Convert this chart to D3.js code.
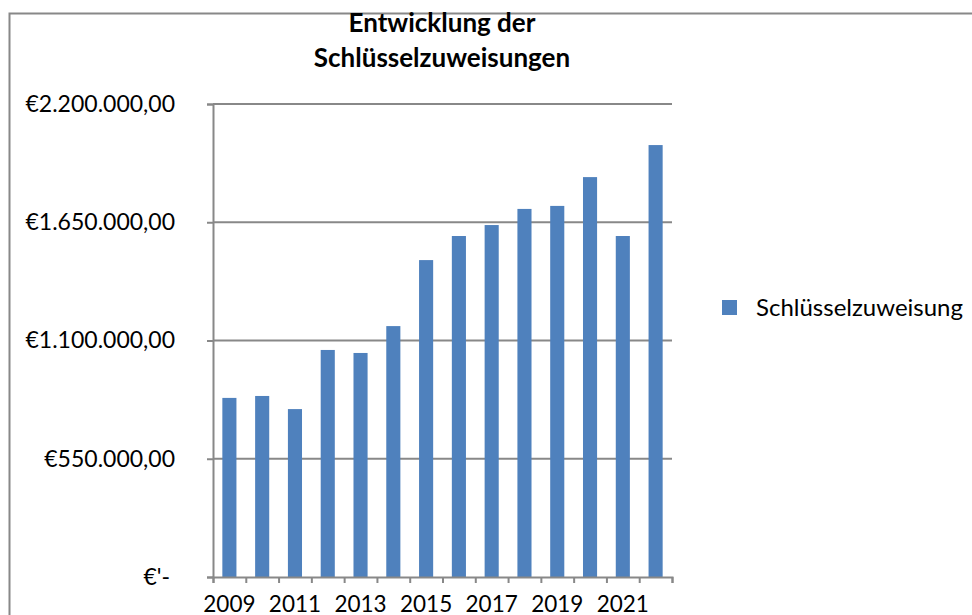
<!DOCTYPE html>
<html>
<head>
<meta charset="utf-8">
<script src="https://cdn.jsdelivr.net/npm/d3@7"></script>
<style>
  body { margin: 0; background: #fff; }
  text { font-family: Lato, "Open Sans", sans-serif; fill: #000; }
</style>
</head>
<body>
<div class="chart"></div>
<script>
// data
const years = ['2009', '2010', '2011', '2012', '2013', '2014', '2015',
               '2016', '2017', '2018', '2019', '2020', '2021', '2022'];
const values = [833000, 842000, 781000, 1056000, 1042000, 1167000, 1474000,
                1586000, 1637000, 1712000, 1726000, 1860000, 1586000, 2009000];
const yTicks = [0, 550000, 1100000, 1650000, 2200000];
const yTickLabels = ["€'-", '€550.000,00', '€1.100.000,00', '€1.650.000,00', '€2.200.000,00'];
const seriesName = 'Schlüsselzuweisung';
const titleLines = ['Entwicklung der', 'Schlüsselzuweisungen'];

const W = 972, H = 615;
const margin = {top: 104, right: 300, bottom: 38, left: 213};
const width = W - margin.left - margin.right,
      height = H - margin.top - margin.bottom;

const barColour = '#4f81bd';
const lineColour = '#888';

const svg = d3.select('.chart').append('svg')
    .attr('width', W)
    .attr('height', H);

// outer chart frame (only top and left edges show)
svg.append('path')
    .attr('d', `M9.5,${H} V13.5 H${W}`)
    .attr('fill', 'none')
    .attr('stroke', lineColour)
    .attr('stroke-width', 2);

// title
svg.append('g')
  .selectAll('text')
  .data(titleLines)
  .enter().append('text')
    .attr('x', 442)
    .attr('y', (d, i) => 32 + i * 35)
    .attr('text-anchor', 'middle')
    .attr('font-weight', 'bold')
    .attr('font-size', 26)
    .text(d => d);

const graph = svg.append('g')
    .attr('transform', `translate(${margin.left}, ${margin.top})`);

const x = d3.scaleBand()
    .domain(years)
    .range([0, width])
    .paddingInner(0.57)
    .paddingOuter(0.285);

const y = d3.scaleLinear()
    .domain([0, 2200000])
    .range([height, 0]);

// horizontal gridlines
graph.append('g')
  .selectAll('line')
  .data(yTicks.slice(1))
  .enter().append('line')
    .attr('x1', 0)
    .attr('x2', width)
    .attr('y1', d => y(d))
    .attr('y2', d => y(d))
    .attr('stroke', lineColour)
    .attr('stroke-width', 2);

// bars
graph.append('g')
  .selectAll('rect')
  .data(values)
  .enter().append('rect')
    .attr('x', (d, i) => x(years[i]))
    .attr('y', d => y(d))
    .attr('width', x.bandwidth())
    .attr('height', d => height - y(d))
    .attr('fill', barColour);

// y axis
const yAxis = graph.append('g')
    .call(d3.axisLeft(y)
      .tickValues(yTicks)
      .tickSize(6)
      .tickPadding(32)
      .tickFormat((d, i) => yTickLabels[i]));

// x axis: ticks on the category boundaries, every second year labelled
const step = x.step();
const xEdges = d3.range(years.length + 1).map(i => i * step);
const xAxis = graph.append('g')
    .attr('transform', `translate(0, ${height})`)
    .call(d3.axisBottom(d3.scaleLinear().domain([0, width]).range([0, width]))
      .tickValues(xEdges)
      .tickSize(6)
      .tickFormat(''));

graph.append('g')
  .selectAll('text')
  .data(years.filter((d, i) => i % 2 === 0))
  .enter().append('text')
    .attr('x', d => x(d) + x.bandwidth() / 2)
    .attr('y', height + 35)
    .attr('text-anchor', 'middle')
    .attr('font-size', 22.5)
    .text(d => d);

[yAxis, xAxis].forEach(a => {
  a.select('.domain').attr('stroke', lineColour).attr('stroke-width', 2);
  a.selectAll('.tick line').attr('stroke', lineColour).attr('stroke-width', 2);
  a.selectAll('.tick text').attr('font-size', 23).attr('fill', '#000')
    .style('font-family', 'Lato, "Open Sans", sans-serif');
});
yAxis.selectAll('.tick text').attr('dx', (d, i) => i === 0 ? -5 : 0);

// legend
const legend = svg.append('g')
    .attr('transform', 'translate(722, 300)');
legend.append('rect')
    .attr('width', 15)
    .attr('height', 15)
    .attr('fill', barColour);
legend.append('text')
    .attr('x', 34)
    .attr('y', 16)
    .attr('font-size', 24)
    .text(seriesName);
</script>
</body>
</html>
